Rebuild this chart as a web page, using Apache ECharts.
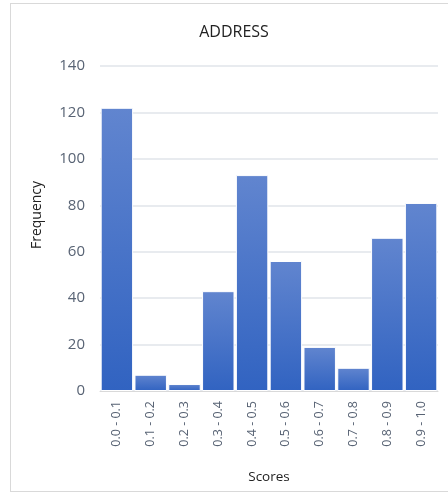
<!DOCTYPE html>
<html>
<head>
<meta charset="utf-8">
<script src="https://cdn.jsdelivr.net/npm/echarts@6/dist/echarts.min.js"></script>
<style>
  html, body { margin: 0; padding: 0; background: #fff; }
  #frame { position: absolute; left: 10px; top: 3px; width: 445px; height: 489px; border: 1px solid #d9d9d9; box-sizing: border-box; }
  #main { position: absolute; left: 0; top: 0; width: 448px; height: 495px; }
</style>
</head>
<body>
<div id="frame"></div>
<div id="main"></div>
<script>
// 分组区间
let bins = ["0.0 - 0.1", "0.1 - 0.2", "0.2 - 0.3", "0.3 - 0.4", "0.4 - 0.5",
    "0.5 - 0.6", "0.6 - 0.7", "0.7 - 0.8", "0.8 - 0.9", "0.9 - 1.0"];
// 频数
let counts = [122, 7, 3, 43, 93, 56, 19, 10, 66, 81];
let yTicks = [0, 20, 40, 60, 80, 100, 120, 140];

function drawChart() {
    let mychart = echarts.init(document.getElementById("main"));
    let options = {
        animation: false,
        // 标题和y轴名称单独画
        graphic: [{
            type: "text",
            x: 234,
            y: 32,
            style: {
                text: "ADDRESS",
                fill: "#222",
                font: "16px 'Open Sans'",
                align: "center",
                verticalAlign: "middle"
            }
        }, {
            type: "text",
            x: 37,
            y: 215,
            rotation: Math.PI / 2,
            style: {
                text: "Frequency",
                fill: "#222",
                font: "14px 'Open Sans'",
                align: "center",
                verticalAlign: "middle"
            }
        }],
        grid: {
            left: 100,
            right: 10,
            top: 66,
            bottom: 104
        },
        xAxis: {
            type: "category",
            data: bins,
            name: "Scores",
            nameLocation: "middle",
            nameGap: 79,
            nameTextStyle: { color: "#222", fontSize: 13.5, fontFamily: "Open Sans" },
            axisTick: { show: false },
            axisLine: { lineStyle: { color: "#d9d9d9", width: 1 } },
            axisLabel: {
                rotate: 90,
                interval: 0,
                margin: 10,
                color: "#586374",
                fontSize: 12.5,
                fontFamily: "Open Sans"
            }
        },
        yAxis: {
            type: "value",
            min: yTicks[0],
            max: yTicks[yTicks.length - 1],
            interval: 20,
            axisLabel: {
                color: "#586374",
                fontSize: 15,
                margin: 15,
                fontFamily: "Open Sans"
            },
            splitLine: { lineStyle: { color: "#e1e4ea", width: 1.5 } }
        },
        series: [{
            type: "bar",
            data: counts,
            barCategoryGap: "4%",
            itemStyle: {
                color: new echarts.graphic.LinearGradient(0, 0, 0, 1, [
                    { offset: 0, color: "#6185cf" },
                    { offset: 1, color: "#3163c1" }
                ]),
                borderColor: "#ffffff",
                borderWidth: 1
            }
        }]
    };
    mychart.setOption(options);
}
drawChart();
</script>
</body>
</html>
